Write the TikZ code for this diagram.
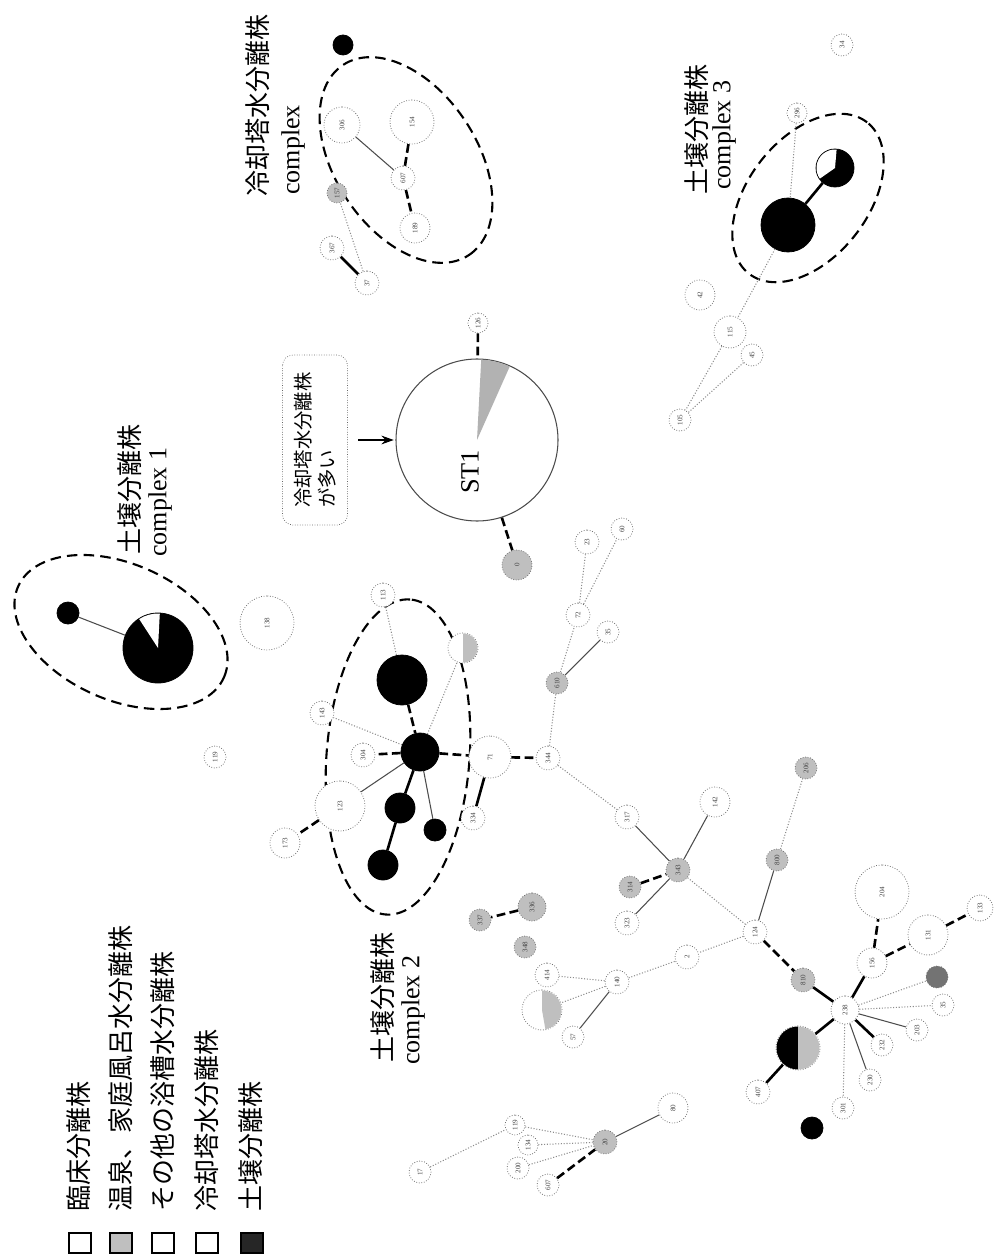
\documentclass[tikz,border=0pt]{standalone}
\usepackage{fontspec}
\setmainfont{Liberation Serif}
\newfontfamily\jpfont{Noto Sans CJK JP}
\usetikzlibrary{shapes.geometric,arrows.meta}
\begin{document}
\begin{tikzpicture}[x=0.2mm,y=0.2mm,
  nd/.style={circle, draw=black!55, densely dotted, line width=0.45pt, minimum size=#1*0.4mm, inner sep=0pt, rotate=90, font=\fontsize{4}{4}\selectfont, text=black!75},
  wn/.style={nd=#1, fill=white},
  gn/.style={nd=#1, fill=black!25},
  dn/.style={nd=#1, fill=black!55},
  bn/.style={nd=#1, fill=black, draw=black, solid},
  cx/.style={draw=black, line width=1.2pt, dash pattern=on 6pt off 3.5pt, ellipse, inner sep=0pt},
  thk/.style={line width=1.5pt},
  thkd/.style={line width=1.5pt, dash pattern=on 5pt off 2.5pt},
  thn/.style={line width=0.6pt, black!70},
  dotl/.style={line width=0.6pt, black!45, densely dotted},
  jlbl/.style={rotate=90, anchor=west, inner sep=0pt, font=\jpfont\fontsize{14.8}{16}\selectfont},
  elbl/.style={rotate=90, anchor=west, inner sep=0pt, font=\fontsize{14.8}{16}\selectfont},
  sq/.style={draw=black, line width=0.6pt, minimum width=4.4mm, minimum height=4mm, inner sep=0pt}
]
\useasboundingbox (0,0) rectangle (995,-1256);

% ---------- legend ----------
\node[sq, fill=white] (s1) at (80,-1243) {};
\node[sq, fill=black!25] (s2) at (121,-1243) {};
\node[sq, fill=white] (s3) at (163,-1243) {};
\node[sq, fill=white] (s4) at (207,-1243) {};
\node[sq, fill=black!85] (s5) at (252,-1243) {};
\node[jlbl] (l1) at (79,-1212) {臨床分離株};
\node[jlbl] (l2) at (121,-1212) {温泉、家庭風呂水分離株};
\node[jlbl] (l3) at (163,-1212) {その他の浴槽水分離株};
\node[jlbl] (l4) at (207,-1212) {冷却塔水分離株};
\node[jlbl] (l5) at (251,-1212) {土壌分離株};

% ---------- group labels ----------
\node[jlbl] (t1a) at (258,-197) {冷却塔水分離株};
\node[elbl] (t1b) at (293,-195) {complex};
\node[jlbl] (t2a) at (130,-555) {土壌分離株};
\node[elbl] (t2b) at (160,-557) {complex 1};
\node[jlbl] (t3a) at (383,-1063) {土壌分離株};
\node[elbl] (t3b) at (413,-1065) {complex 2};
\node[jlbl] (t4a) at (697,-195) {土壌分離株};
\node[elbl] (t4b) at (724,-190) {complex 3};

% ---------- cooling tower complex ----------
\node[cx, minimum width=228*0.2mm, minimum height=142*0.2mm, rotate=-56.5] (e1) at (406,-160) {};
\node[bn=10] (tb) at (343,-45) {};
\node[wn=18] (c306) at (342,-125) {306};
\node[wn=22] (c154) at (412,-122) {154};
\node[wn=12] (c607) at (403,-178) {607};
\node[wn=15] (c189) at (415,-228) {189};
\node[gn=10] (c157) at (337,-193) {157};
\node[wn=12] (c367) at (332,-248) {367};
\node[wn=12] (c37) at (367,-283) {37};
\draw[thn] (c306) -- (c607);
\draw[thkd] (c154) -- (c607);
\draw[thkd] (c607) -- (c189);
\draw[thk] (c367) -- (c37);
\draw[dotl] (c37) -- (c157);

% ---------- ST1 ----------
\node[circle, draw=black!70, line width=0.6pt, minimum size=81*0.4mm, inner sep=0pt] (st1) at (477,-440) {};
\fill[black!30] (st1.center) -- ++(66:80.5) arc[start angle=66, end angle=87, radius=80.5] -- cycle;
\node[rotate=90, font=\fontsize{15}{15}\selectfont] (st1l) at (470,-472) {ST1};
\node[wn=10] (c126) at (478,-323) {126};
\node[gn=15] (g0) at (517,-565) {0};
\draw[thkd] (c126) -- (st1);
\draw[thkd] (st1) -- (g0);
\node[draw=black!60, densely dotted, rounded corners=6pt, rotate=90, minimum width=34mm, minimum height=13mm, align=left, font=\jpfont\fontsize{11}{14}\selectfont] (bx) at (315,-440) {冷却塔水分離株\\が多い};
\draw[-{Stealth[length=7pt,width=5pt]}, line width=0.8pt, shorten <=6pt, shorten >=1pt] (bx.south) -- (st1.west);

% ---------- complex 1 ----------
\node[cx, minimum width=225*0.2mm, minimum height=136*0.2mm, rotate=-23.8] (e2) at (121,-632) {};
\node[bn=11] (k1a) at (68,-613) {};
\node[bn=35] (k1b) at (158,-648) {};
\fill[white] (k1b.center) -- ++(87:34.5) arc[start angle=87, end angle=123, radius=34.5] -- cycle;
\draw[thn] (k1a) -- (k1b);
\node[wn=27] (n138) at (267,-623) {138};
\node[wn=11] (n119) at (215,-757) {119};

% ---------- complex 2 ----------
\node[cx, minimum width=316*0.2mm, minimum height=143*0.2mm, rotate=85.6] (e3) at (398,-757) {};
\node[bn=25] (k2a) at (402,-680) {};
\node[bn=19] (k2c) at (420,-752) {};
\node[bn=15] (k2d) at (400,-808) {};
\node[bn=11] (k2e) at (435,-830) {};
\node[bn=15] (k2f) at (383,-865) {};
\node[wn=12] (n304) at (363,-755) {304};
\node[wn=25] (n123) at (340,-806) {123};
\node[wn=15] (n173) at (285,-843) {173};
\node[wn=12] (n143) at (322,-713) {143};
\node[wn=12] (n113) at (383,-595) {113};
\node[wn=15] (h1) at (463,-648) {};
\fill[black!25] (h1.center) -- ++(-90:14.5) arc[start angle=-90, end angle=90, radius=14.5] -- cycle;
\node[wn=21] (n71) at (490,-757) {71};
\node[wn=12] (n334) at (473,-818) {334};
\node[wn=12] (n344) at (548,-758) {344};
\draw[thkd] (k2a) -- (k2c);
\draw[dotl] (n113) -- (k2a);
\draw[thkd] (k2c) -- (n304);
\draw[thkd] (k2c) -- (n71);
\draw[thk] (k2c) -- (k2d);
\draw[thk] (k2d) -- (k2f);
\draw[thn] (k2c) -- (k2e);
\draw[thn] (k2c) -- (n123);
\draw[thkd] (n123) -- (n173);
\draw[dotl] (k2c) -- (n143);
\draw[dotl] (k2c) -- (h1);
\draw[thk] (n71) -- (n334);
\draw[thkd] (n71) -- (n344);

% chain towards ST1
\node[gn=11] (g610) at (557,-683) {610};
\node[wn=12] (n72) at (578,-615) {72};
\node[wn=11] (n35) at (608,-632) {35};
\node[wn=12] (n23) at (587,-542) {23};
\node[wn=11] (n60) at (622,-529) {60};
\draw[dotl] (n344) -- (g610);
\draw[dotl] (g610) -- (n72);
\draw[thn] (g610) -- (n35);
\draw[dotl] (n72) -- (n23);
\draw[dotl] (n72) -- (n60);

% ---------- central network ----------
\node[gn=14] (g336) at (532,-907) {336};
\node[gn=11] (g337) at (480,-920) {337};
\node[gn=11] (g348) at (525,-947) {348};
\draw[thkd] (g336) -- (g337);
\node[wn=12] (n414) at (547,-975) {414};
\node[wn=20] (h2) at (542,-1010) {};
\fill[black!25] (h2.center) -- ++(-80:19.5) arc[start angle=-80, end angle=90, radius=19.5] -- cycle;
\node[wn=11] (n57) at (573,-1037) {57};
\node[wn=12] (n140) at (617,-982) {140};
\node[wn=12] (n2) at (687,-957) {2};
\draw[dotl] (n140) -- (n414);
\draw[dotl] (n140) -- (h2);
\draw[thn] (n140) -- (n57);
\draw[dotl] (n140) -- (n2);

\node[wn=12] (n317) at (627,-817) {317};
\node[wn=15] (n142) at (715,-802) {142};
\node[gn=12] (g343) at (678,-870) {343};
\node[gn=11] (g314) at (630,-887) {314};
\node[wn=12] (n323) at (627,-923) {323};
\draw[dotl] (n344) -- (n317);
\draw[thn] (n317) -- (g343);
\draw[thn] (n142) -- (g343);
\draw[thkd] (g314) -- (g343);
\draw[thn] (n323) -- (g343);

\node[gn=11] (g206) at (806,-768) {206};
\node[gn=11] (g800) at (777,-860) {800};
\node[wn=12] (n124) at (755,-932) {124};
\draw[dotl] (g343) -- (n124);
\draw[thn] (n124) -- (g800);
\draw[dotl] (g800) -- (g206);
\draw[dotl] (n124) -- (n2);

\node[gn=12] (g810) at (803,-980) {810};
\node[wn=14] (hub) at (845,-1010) {238};
\node[wn=15] (n156) at (872,-963) {156};
\node[wn=27] (n204) at (882,-892) {204};
\node[wn=20] (n131) at (928,-935) {131};
\node[wn=13] (n133) at (980,-908) {133};
\node[dn=11] (dg) at (937,-977) {};
\node[wn=11] (n35b) at (943,-1005) {35};
\node[wn=11] (n203) at (917,-1030) {203};
\node[wn=11] (n232) at (882,-1045) {232};
\node[wn=11] (n230) at (870,-1080) {230};
\node[wn=11] (n301) at (843,-1108) {301};
\node[wn=22] (h3) at (798,-1048) {};
\fill[black] (h3.center) -- ++(90:21.5) arc[start angle=90, end angle=270, radius=21.5] -- cycle;
\fill[black!25] (h3.center) -- ++(-90:21.5) arc[start angle=-90, end angle=90, radius=21.5] -- cycle;
\node[wn=12] (n407) at (758,-1092) {407};
\node[bn=11] (bd) at (812,-1128) {};
\draw[thkd] (n124) -- (g810);
\draw[thk] (g810) -- (hub);
\draw[thk] (hub) -- (n156);
\draw[thkd] (n156) -- (n204);
\draw[thkd] (n156) -- (n131);
\draw[thkd] (n131) -- (n133);
\draw[dotl] (hub) -- (dg);
\draw[dotl] (hub) -- (n35b);
\draw[thn] (hub) -- (n203);
\draw[thk] (hub) -- (n232);
\draw[thn] (hub) -- (n230);
\draw[dotl] (hub) -- (n301);
\draw[thk] (hub) -- (h3);
\draw[thk] (h3) -- (n407);

% bottom left chain
\node[gn=12] (g20) at (605,-1142) {20};
\node[wn=15] (n80) at (673,-1108) {80};
\node[wn=11] (n607b) at (548,-1185) {607};
\node[wn=11] (n200) at (518,-1168) {200};
\node[wn=10] (n134) at (528,-1145) {134};
\node[wn=10] (n119b) at (515,-1125) {119};
\node[wn=11] (n17b) at (420,-1172) {17};
\draw[thkd] (n607b) -- (g20);
\draw[thn] (g20) -- (n80);
\draw[dotl] (n200) -- (g20);
\draw[dotl] (n134) -- (g20);
\draw[dotl] (n119b) -- (g20);
\draw[dotl] (n17b) -- (n119b);

% ---------- complex 3 ----------
\node[cx, minimum width=192*0.2mm, minimum height=120*0.2mm, rotate=52] (e4) at (808,-198) {};
\node[bn=27] (k3a) at (788,-225) {};
\node[bn=19] (k3b) at (835,-168) {};
\fill[white] (k3b.center) -- ++(85:18.5) arc[start angle=85, end angle=215, radius=18.5] -- cycle;
\draw[thk] (k3a) -- (k3b);
\node[wn=10] (n296) at (797,-113) {296};
\node[wn=11] (n34) at (842,-45) {34};
\draw[dotl] (n296) -- (k3a);
\node[wn=15] (n42) at (700,-295) {42};
\node[wn=16] (n115) at (730,-332) {115};
\node[wn=11] (n45) at (752,-355) {45};
\node[wn=11] (n105) at (680,-420) {105};
\draw[dotl] (k3a) -- (n115);
\draw[dotl] (n115) -- (n105);
\draw[dotl] (n45) -- (n105);
\end{tikzpicture}
\end{document}
